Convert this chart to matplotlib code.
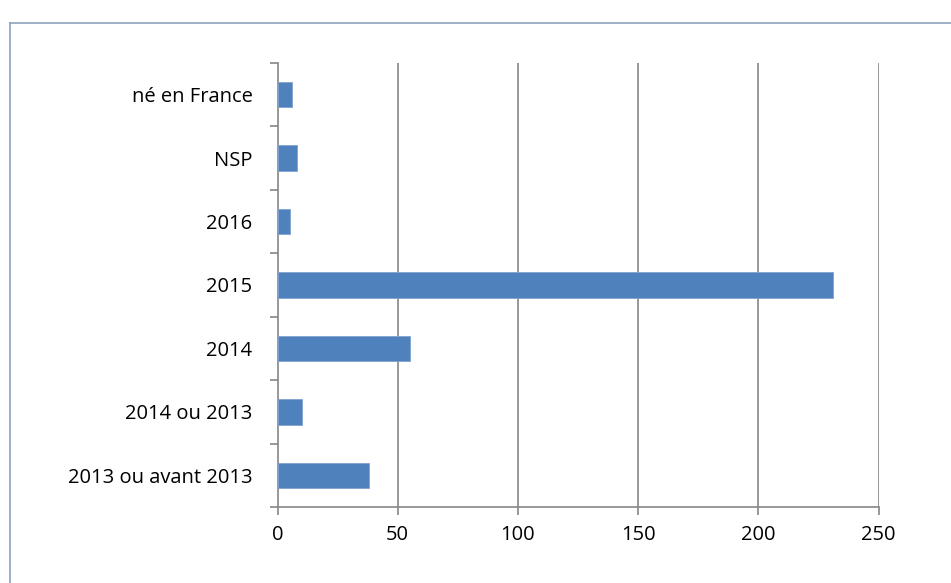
import matplotlib
matplotlib.use("Agg")
import matplotlib.pyplot as plt
from matplotlib.lines import Line2D

categories = ["2013 ou avant 2013", "2014 ou 2013", "2014", "2015", "2016", "NSP", "né en France"]
values = [38, 10, 55, 231, 5, 8, 6]
xticks = [0, 50, 100, 150, 200, 250]

W, H = 951, 583
fig = plt.figure(figsize=(W / 100, H / 100), dpi=100)
fig.patch.set_facecolor("white")

# outer chart border (top and left visible)
bc = "#8DA2BC"
fig.add_artist(Line2D([10 / W, 10 / W], [0, 1 - 23 / H], color=bc, lw=1.2, transform=fig.transFigure))
fig.add_artist(Line2D([10 / W, 1], [1 - 23 / H, 1 - 23 / H], color=bc, lw=1.2, transform=fig.transFigure))

ax = fig.add_axes([277.5 / W, 1 - 507 / H, (878.5 - 277.5) / W, (507 - 63) / H])
ypos = list(range(len(categories)))
ax.barh(ypos, values, height=0.4, color="#4F81BD", edgecolor="#7FA3D0", linewidth=0.6, zorder=3)

ax.set_xlim(0, 250)
ax.set_ylim(-0.5, len(categories) - 0.5)
ax.set_xticks(xticks)
ax.set_xticklabels([str(t) for t in xticks])
ax.set_yticks(ypos)
ax.set_yticklabels(categories)
ax.set_yticks([i - 0.5 for i in range(len(categories) + 1)], minor=True)

gc = "#868686"
for t in xticks[1:]:
    ax.axvline(t, color=gc, lw=1.2, zorder=1)

for s in ["top", "right"]:
    ax.spines[s].set_visible(False)
for s in ["left", "bottom"]:
    ax.spines[s].set_color(gc)
    ax.spines[s].set_linewidth(1.2)

ax.tick_params(axis="y", which="major", length=0, pad=18, labelsize=14.5, labelcolor="black")
ax.tick_params(axis="y", which="minor", length=6, width=1.2, color=gc, direction="out")
ax.tick_params(axis="x", which="major", length=6, width=1.2, color=gc, direction="out", pad=7,
               labelsize=14.5, labelcolor="black")
for lab in ax.get_xticklabels() + ax.get_yticklabels():
    lab.set_fontfamily(["Open Sans", "DejaVu Sans"])

fig.savefig("out.png", dpi=100)
